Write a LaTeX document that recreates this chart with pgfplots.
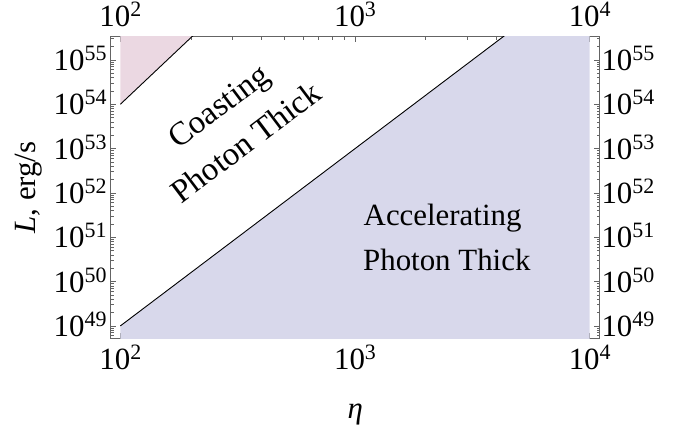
\documentclass[border=0pt]{standalone}
\usepackage{fontspec}
\setmainfont{Liberation Serif}
\usepackage{pgfplots}
\pgfplotsset{compat=1.18}
\definecolor{lav}{RGB}{216,216,235}
\definecolor{pnk}{RGB}{235,216,226}
\definecolor{frm}{RGB}{100,100,100}
\newcommand\bigfont{\fontsize{31}{37}\selectfont}
\newcommand\rotfont{\fontsize{33}{39}\selectfont}
\newcommand\tkl[1]{10\raisebox{10bp}{\fontsize{22}{22}\selectfont #1}}
\begin{document}
\begin{tikzpicture}
\useasboundingbox (0,0) rectangle (688bp,428bp);
\begin{axis}[
  at={(110.7bp,89.7bp)}, anchor=south west,
  width=489bp, height=301.6bp, scale only axis,
  xmode=log, ymode=log,
  xmin=91.0, xmax=11030, ymin=5.27e48, ymax=3.355e55,
  xtick={100,1000,10000}, xticklabels={\tkl{2},\tkl{3},\tkl{4}},
  ytick={1e49,1e50,1e51,1e52,1e53,1e54,1e55},
  yticklabels={\tkl{49},\tkl{50},\tkl{51},\tkl{52},\tkl{53},\tkl{54},\tkl{55}},
  minor xtick={200,300,400,500,600,700,800,900,2000,3000,4000,5000,6000,7000,8000,9000},
  minor ytick={6e48,7e48,8e48,9e48,
    2e49,3e49,4e49,5e49,6e49,7e49,8e49,9e49,
    2e50,3e50,4e50,5e50,6e50,7e50,8e50,9e50,
    2e51,3e51,4e51,5e51,6e51,7e51,8e51,9e51,
    2e52,3e52,4e52,5e52,6e52,7e52,8e52,9e52,
    2e53,3e53,4e53,5e53,6e53,7e53,8e53,9e53,
    2e54,3e54,4e54,5e54,6e54,7e54,8e54,9e54,
    2e55,3e55},
  major tick length=5.5bp, minor tick length=3bp,
  tick style={color=frm, line width=0.7bp},
  axis line style={color=frm, line width=1bp},
  xticklabel style={font=\bigfont, inner sep=0pt, anchor=base, yshift=-31.7bp},
  yticklabel style={font=\bigfont, inner sep=0pt, anchor=base east, xshift=-4bp, yshift=-10.5bp},
]
\addplot[fill=lav, draw=none] coordinates {(100,1e48) (100,1e49) (10000,1e57) (10000,1e48)};
\addplot[fill=pnk, draw=none] coordinates {(100,1e54) (1000,1e59) (100,1e59)};
\addplot[black, line width=0.9bp] coordinates {(100,1e49) (10000,1e57)};
\addplot[black, line width=0.9bp] coordinates {(100,1e54) (1000,1e59)};
\end{axis}
\begin{axis}[
  at={(110.7bp,89.7bp)}, anchor=south west,
  width=489bp, height=301.6bp, scale only axis,
  xmode=log, ymode=log, clip=false,
  xmin=91.0, xmax=11030, ymin=5.27e48, ymax=3.355e55,
  xtick={100,1000,10000}, xticklabels={\tkl{2},\tkl{3},\tkl{4}},
  ytick={1e49,1e50,1e51,1e52,1e53,1e54,1e55},
  yticklabels={\tkl{49},\tkl{50},\tkl{51},\tkl{52},\tkl{53},\tkl{54},\tkl{55}},
  minor tick num=0,
  axis line style={draw=none}, tick style={draw=none},
  xticklabel pos=upper, yticklabel pos=right,
  xticklabel style={font=\bigfont, inner sep=0pt, anchor=base, yshift=10bp},
  yticklabel style={font=\bigfont, inner sep=0pt, anchor=base west, xshift=1.6bp, yshift=-10.5bp},
]
\node[font=\rotfont, rotate=37, anchor=base, inner sep=0pt] at (axis cs:279.0,5.834e53) {Coasting};
\node[font=\rotfont, rotate=37, anchor=base, inner sep=0pt] at (axis cs:365.3,8.763e52) {Photon Thick};
\node[font=\bigfont, anchor=base west, inner sep=0pt] at (axis cs:1087,1.83e51) {Accelerating};
\node[font=\bigfont, anchor=base west, inner sep=0pt] at (axis cs:1081,1.766e50) {Photon Thick};
\node[font=\bigfont, rotate=90, anchor=base, inner sep=0pt] at (axis description cs:-0.1548,0.5) {\textit{L}, erg/s};
\node[font=\bigfont, anchor=base, inner sep=0pt] at (axis description cs:0.5,-0.2676) {\textit{η}};
\end{axis}
\end{tikzpicture}
\end{document}
